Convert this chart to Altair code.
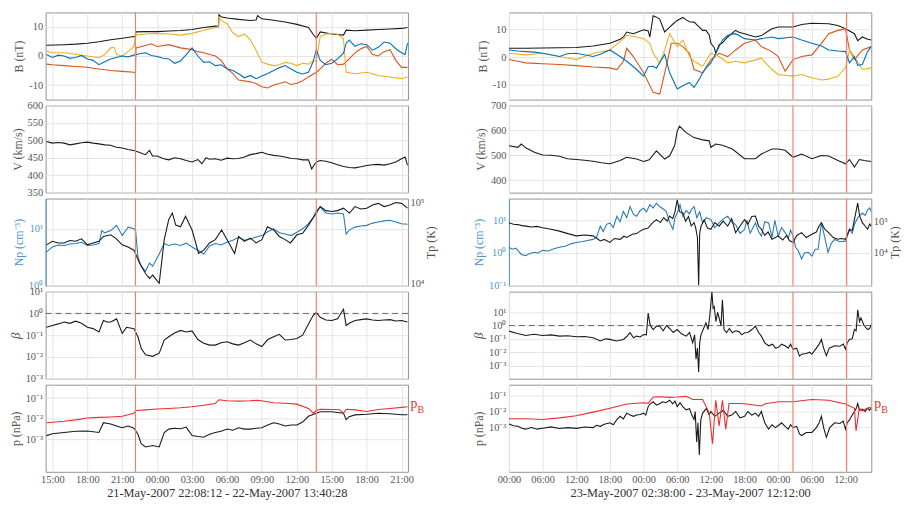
import altair as alt
import pandas as pd

FONT = "Liberation Serif"
LAB = "#555555"
GRID = "#e4e4e4"
FRAME = "#929292"
C_BX, C_BY, C_BZ, C_K = "#0072BD", "#D95319", "#EDB120", "#1a1a1a"
C_NP = "#2a7ab8"
C_NPAX = "#4f94cd"
C_PB = "#f22a2a"
C_SHOCK = "#f4806c"
W, H = 366, 88

# ---------------- time ranges (hours after 21-May-2007 00:00) ----------------
L_DOM = [14.42, 45.55]
R_DOM = [0.0, 64.6]
L_TICKS = [15, 18, 21, 24, 27, 30, 33, 36, 39, 42, 45]
R_TICKS = [0, 6, 12, 18, 24, 30, 36, 42, 48, 54, 60]
L_SHOCKS = [22.137, 37.674]
R_SHOCKS = [50.633, 60.2]
L_TITLE = "21-May-2007 22:08:12 - 22-May-2007 13:40:28"
R_TITLE = "23-May-2007 02:38:00 - 23-May-2007 12:12:00"

# ---------------- LEFT EVENT ----------------
LBM_T = [14.49, 16.01, 17.0, 18.01, 19.0, 20.01, 21.0, 22.01, 22.14, 22.16, 23.0, 24.01, 25.0, 26.01, 27.0, 28.01, 29.0, 29.28, 29.31, 29.54, 30.01, 31.0, 32.01, 32.5, 32.63, 33.0, 34.01, 35.0, 36.01, 37.0, 37.4, 37.68, 38.01, 39.0, 40.01, 40.24, 41.0, 42.01, 43.0, 44.01, 45.0, 45.51]
LBM = [3.7, 3.9, 4.1, 4.4, 4.9, 5.6, 6.1, 6.7, 6.6, 8.3, 8.4, 8.4, 8.6, 8.8, 9.1, 9.8, 10.3, 10.4, 14.2, 13.4, 13.1, 12.6, 12.2, 12.4, 13.9, 12.8, 12.3, 11.7, 10.9, 9.8, 7.5, 6.1, 8.3, 7.6, 7.2, 8.9, 8.7, 8.9, 9.1, 9.3, 9.5, 9.8]

LBX_T = [14.49, 15.0, 15.5, 16.01, 16.5, 17.0, 17.5, 18.01, 18.5, 19.0, 19.5, 20.01, 20.5, 21.0, 21.5, 22.01, 22.5, 23.0, 23.5, 24.01, 24.5, 25.0, 25.5, 26.01, 26.5, 27.0, 27.5, 28.01, 28.5, 29.0, 29.5, 30.01, 30.5, 31.0, 31.5, 32.01, 32.5, 33.0, 33.5, 34.01, 34.5, 35.0, 35.5, 36.01, 36.5, 37.0, 37.4, 37.68, 38.01, 38.5, 39.0, 39.5, 40.01, 40.24, 40.5, 41.0, 41.5, 42.01, 42.5, 43.0, 43.5, 44.01, 44.5, 45.0, 45.3, 45.51]
LBX = [0.5, -0.5, 0.3, 0.0, -0.8, -0.5, 0.2, -1.0, -1.5, -3.0, -2.0, -1.0, -0.5, 0.0, -0.3, 0.3, 0.8, 1.1, 0.2, -0.2, -0.8, -1.0, -2.5, -1.7, 0.5, 2.8, 0.0, -2.2, -2.0, -3.3, -3.0, -4.4, -5.0, -6.1, -7.5, -6.7, -7.8, -6.9, -6.0, -5.0, -4.0, -3.3, -4.5, -5.6, -6.2, -5.6, -2.0, 2.2, -1.5, -3.0, -2.5, -1.0, 1.0, 4.4, 5.5, 3.3, 4.2, 3.9, 2.0, 3.0, 4.8, 4.4, 2.5, 1.1, 0.5, 4.4]

LBY_T = [14.49, 15.0, 16.01, 17.0, 18.01, 19.0, 20.01, 21.0, 22.01, 22.14, 22.18, 23.0, 23.5, 24.01, 25.0, 26.01, 27.0, 27.5, 28.01, 28.5, 29.0, 29.5, 30.01, 30.5, 31.0, 32.01, 32.5, 33.0, 33.5, 34.01, 34.5, 35.0, 35.5, 36.01, 36.5, 37.0, 37.68, 38.01, 38.5, 39.0, 39.5, 40.01, 40.5, 41.0, 41.5, 42.01, 42.5, 43.0, 43.5, 44.01, 44.5, 45.0, 45.51]
LBY = [-2.8, -3.0, -3.3, -3.6, -3.9, -4.5, -5.0, -5.3, -5.6, -5.8, 2.8, 3.6, 4.2, 3.3, 3.9, 2.8, 2.2, 1.5, 1.1, 0.5, 0.0, -1.5, -4.4, -6.0, -8.3, -8.9, -9.5, -10.6, -11.0, -10.0, -9.5, -8.9, -9.8, -9.4, -8.5, -7.2, -5.6, -4.4, -2.5, -1.1, -3.0, -2.8, -1.0, 1.1, 2.5, 3.3, 0.5, 0.0, 1.5, 2.2, -1.5, -3.9, -3.9]

LBZ_T = [14.49, 15.0, 16.01, 17.0, 18.01, 19.0, 19.5, 20.01, 20.3, 20.52, 21.0, 21.5, 22.01, 22.16, 23.0, 24.01, 25.0, 26.01, 27.0, 28.01, 29.0, 29.28, 29.31, 29.6, 30.01, 30.5, 31.0, 31.5, 32.01, 32.5, 33.0, 33.5, 34.01, 34.5, 35.0, 35.5, 36.01, 36.5, 37.0, 37.4, 37.68, 38.01, 38.5, 39.0, 39.5, 40.01, 40.24, 41.0, 42.01, 43.0, 44.01, 45.0, 45.51]
LBZ = [1.7, 1.1, 1.1, 0.6, 0.0, -0.6, 0.5, 2.8, 3.0, 0.5, 0.0, 1.5, 3.3, 7.2, 7.6, 7.8, 7.6, 7.2, 7.8, 8.9, 9.8, 9.8, 13.3, 12.0, 11.1, 8.0, 6.7, 7.5, 5.6, 2.0, -2.2, -2.8, -3.3, -3.0, -2.2, -2.5, -3.3, -2.5, -2.8, -1.7, -1.7, 6.7, 7.5, 7.8, 7.5, 6.0, -5.6, -6.1, -5.6, -6.7, -7.2, -7.8, -7.2]

LV_T = [14.49, 15.0, 15.5, 16.01, 16.5, 17.0, 17.5, 18.01, 18.5, 19.0, 19.5, 20.01, 20.5, 21.0, 21.5, 22.01, 22.5, 23.0, 23.34, 23.6, 24.01, 24.5, 25.0, 25.5, 26.01, 26.5, 27.0, 27.5, 27.85, 28.2, 28.5, 29.0, 29.5, 30.01, 30.5, 31.0, 31.5, 32.01, 32.5, 33.0, 33.5, 34.01, 34.5, 35.0, 35.5, 36.01, 36.5, 37.0, 37.28, 37.5, 37.68, 38.01, 38.5, 39.0, 39.5, 40.01, 40.5, 41.0, 41.5, 42.01, 42.5, 43.0, 43.5, 44.01, 44.5, 45.0, 45.31, 45.51]
LV = [497, 492, 494, 492, 487, 490, 493, 495, 492, 490, 487, 486, 480, 478, 474, 471, 465, 459, 471, 455, 455, 448, 444, 450, 447, 442, 438, 445, 433, 450, 446, 447, 443, 449, 447, 448, 452, 459, 462, 466, 460, 457, 455, 452, 448, 447, 444, 444, 418, 430, 438, 442, 440, 436, 430, 425, 422, 421, 424, 428, 430, 431, 429, 433, 438, 447, 452, 428]

LNP_T = [14.49, 15.0, 15.5, 16.01, 16.5, 17.0, 17.5, 18.01, 18.5, 19.0, 19.25, 19.5, 20.01, 20.52, 21.0, 21.51, 22.01, 22.15, 22.35, 22.63, 23.0, 23.34, 23.62, 24.18, 24.61, 25.0, 25.5, 26.01, 26.5, 27.0, 27.5, 28.01, 28.5, 29.0, 29.5, 30.01, 30.5, 31.0, 31.5, 32.01, 32.5, 33.0, 33.5, 34.01, 34.5, 35.0, 35.5, 36.01, 36.5, 37.0, 37.4, 37.68, 38.01, 38.5, 39.0, 39.5, 40.01, 40.24, 40.5, 41.0, 41.5, 42.01, 42.5, 43.0, 43.5, 44.01, 44.5, 45.0, 45.51]
LNP = [3.9, 4.8, 5.2, 5.1, 5.4, 5.5, 5.8, 5.1, 5.2, 5.5, 9.3, 8.5, 9.3, 11.5, 7.6, 10.7, 10.0, 9.3, 3.2, 2.2, 1.8, 2.5, 2.2, 3.6, 5.5, 5.1, 5.4, 5.1, 5.6, 4.8, 4.2, 3.6, 5.0, 5.5, 5.2, 5.8, 6.3, 7.1, 6.3, 6.6, 7.2, 7.6, 8.9, 10.0, 8.5, 8.1, 7.6, 8.7, 10.0, 12.3, 15.8, 20.9, 24.0, 19.0, 18.2, 19.0, 18.2, 8.1, 9.5, 10.7, 11.2, 11.5, 12.6, 13.2, 13.8, 14.1, 13.2, 12.3, 12.0]

LTP_T = [14.49, 15.0, 15.5, 16.01, 16.5, 17.0, 17.5, 18.01, 18.5, 19.0, 19.39, 20.01, 20.5, 21.0, 21.5, 22.01, 22.49, 23.0, 23.34, 23.62, 24.01, 24.18, 24.61, 25.0, 25.31, 25.6, 26.01, 26.44, 27.0, 27.56, 28.01, 28.5, 29.0, 29.54, 30.01, 30.66, 31.0, 31.5, 32.01, 32.5, 33.0, 33.48, 34.01, 34.5, 35.0, 35.45, 36.01, 36.5, 37.0, 37.68, 38.01, 38.5, 39.0, 39.5, 40.01, 40.52, 41.0, 41.5, 42.01, 42.5, 43.0, 43.5, 44.01, 44.5, 45.0, 45.51]
LTP = [29900, 33100, 31600, 31600, 33900, 33100, 35500, 29900, 31600, 33100, 38000, 39800, 35500, 29900, 28200, 25700, 17800, 13200, 11500, 12600, 10700, 10000, 34700, 61700, 74100, 52500, 50100, 67600, 45700, 23400, 25700, 31600, 34700, 45700, 34700, 23400, 38000, 33100, 36300, 31600, 34700, 50100, 45700, 38000, 34700, 31600, 39800, 41700, 52500, 74100, 89100, 79400, 77600, 79400, 85100, 74100, 89100, 83200, 85100, 93300, 97700, 89100, 93300, 100000, 97700, 85100]

LBETA_T = [14.49, 15.0, 15.5, 16.01, 16.5, 17.0, 17.5, 18.01, 18.5, 19.0, 19.39, 19.7, 20.01, 20.52, 21.0, 21.37, 22.01, 22.35, 22.63, 23.0, 23.62, 24.18, 24.61, 25.0, 25.5, 26.01, 26.5, 27.0, 27.5, 28.01, 28.5, 29.0, 29.5, 30.01, 30.5, 31.0, 31.5, 32.01, 32.5, 33.0, 33.5, 34.01, 34.5, 35.0, 35.5, 36.01, 36.5, 37.0, 37.4, 37.68, 38.01, 38.5, 39.0, 39.5, 40.01, 40.24, 40.5, 41.0, 41.5, 42.01, 42.5, 43.0, 43.5, 44.01, 44.5, 45.0, 45.51]
LBETA = [0.23, 0.28, 0.33, 0.40, 0.35, 0.44, 0.35, 0.23, 0.20, 0.14, 0.47, 0.40, 0.40, 0.56, 0.12, 0.23, 0.20, 0.085, 0.025, 0.0126, 0.0107, 0.015, 0.06, 0.085, 0.126, 0.166, 0.14, 0.158, 0.063, 0.043, 0.035, 0.035, 0.045, 0.05, 0.04, 0.035, 0.045, 0.06, 0.04, 0.030, 0.063, 0.085, 0.11, 0.06, 0.063, 0.07, 0.1, 0.33, 0.8, 1.1, 0.66, 0.5, 0.47, 0.56, 1.55, 0.28, 0.35, 0.47, 0.52, 0.56, 0.5, 0.47, 0.5, 0.52, 0.45, 0.47, 0.40]

LPB_T = [14.49, 16.01, 17.0, 18.01, 19.0, 20.01, 21.0, 22.01, 22.16, 23.0, 24.0, 25.0, 26.0, 27.0, 28.0, 29.0, 29.31, 30.0, 31.0, 32.0, 32.63, 33.5, 34.0, 35.0, 36.0, 37.0, 37.42, 37.68, 38.01, 39.0, 39.68, 40.01, 40.24, 41.0, 42.0, 43.0, 44.0, 45.0, 45.51]
LPB = [0.0065, 0.0076, 0.0089, 0.011, 0.0117, 0.0123, 0.0132, 0.0186, 0.025, 0.027, 0.0295, 0.0316, 0.034, 0.038, 0.0447, 0.055, 0.083, 0.074, 0.071, 0.074, 0.078, 0.066, 0.059, 0.056, 0.051, 0.0316, 0.0186, 0.025, 0.029, 0.028, 0.0275, 0.0186, 0.029, 0.027, 0.0224, 0.028, 0.0316, 0.0355, 0.038]

LP_T = [14.49, 15.0, 16.01, 17.0, 18.01, 19.0, 19.39, 20.01, 20.52, 21.0, 21.5, 22.01, 22.35, 22.63, 23.0, 23.62, 24.18, 24.61, 25.0, 25.5, 26.01, 26.5, 27.0, 27.5, 28.01, 28.5, 29.0, 29.5, 30.01, 30.5, 31.0, 31.5, 32.01, 32.5, 33.0, 33.5, 34.01, 34.5, 35.0, 35.5, 36.01, 36.5, 37.0, 37.68, 38.01, 39.0, 40.01, 40.24, 40.5, 41.0, 42.01, 43.0, 44.01, 45.0, 45.51]
LP = [0.00155, 0.0019, 0.0022, 0.0025, 0.0026, 0.0022, 0.0065, 0.0056, 0.0045, 0.0037, 0.0045, 0.0035, 0.0018, 0.00063, 0.00044, 0.00052, 0.00044, 0.0022, 0.0032, 0.0035, 0.0033, 0.004, 0.00155, 0.0014, 0.0013, 0.0018, 0.0022, 0.0025, 0.0032, 0.0028, 0.0037, 0.0032, 0.0032, 0.0035, 0.0037, 0.005, 0.0065, 0.0056, 0.0045, 0.005, 0.005, 0.007, 0.0132, 0.0186, 0.022, 0.022, 0.0186, 0.0091, 0.0126, 0.0155, 0.0166, 0.0186, 0.0174, 0.0158, 0.0158]

# ---------------- RIGHT EVENT ----------------
RBM_T = [0, 3.0, 6.0, 9.0, 12.0, 15.0, 18.0, 19.82, 20.41, 21.0, 22.18, 24.0, 24.82, 25.12, 25.71, 26.29, 26.88, 27.76, 28.65, 29.24, 30.0, 31.0, 31.59, 32.18, 33.0, 33.94, 34.53, 35.12, 35.71, 36.0, 36.59, 36.88, 37.47, 38.06, 39.0, 40.41, 41.0, 42.0, 43.94, 45.0, 46.88, 48.0, 50.65, 52.18, 54.0, 57.0, 58.65, 60.0, 60.71, 61.59, 62.18, 63.0, 63.94, 64.59]
RBM = [3.2, 3.2, 3.3, 3.4, 3.5, 4.0, 5.0, 6.5, 7.3, 9.1, 8.5, 9.9, 9.5, 7.3, 15.0, 14.5, 13.8, 9.1, 10.9, 12.0, 13.3, 14.4, 13.5, 12.8, 12.7, 10.9, 9.7, 9.7, 8.0, 5.0, 3.5, 1.4, 4.5, 5.2, 7.3, 9.7, 9.0, 8.5, 7.3, 7.8, 10.3, 10.9, 10.9, 11.8, 12.3, 12.1, 11.5, 10.3, 9.5, 8.5, 6.0, 7.3, 6.5, 6.2]

RBX_T = [0, 1.59, 3.0, 4.53, 6.0, 9.0, 10.41, 12.0, 15.0, 16.29, 18.0, 19.82, 21.0, 22.76, 24.0, 24.82, 25.71, 26.29, 27.76, 28.65, 30.0, 31.0, 32.18, 33.0, 33.94, 34.53, 35.12, 36.0, 36.88, 38.06, 39.0, 40.41, 42.0, 43.94, 45.0, 46.88, 48.0, 50.65, 52.18, 54.0, 55.71, 57.0, 58.65, 60.0, 60.71, 61.59, 62.18, 63.0, 63.94, 64.59]
RBX = [2.6, 2.2, 2.0, 1.8, 1.4, 0.2, 1.2, 1.4, 0.2, 1.0, 2.6, 0.2, -1.5, -4.5, -6.9, -3.5, -3.3, -4.0, 1.0, -5.7, -11.6, -10.4, -9.2, -11.0, -8.0, -5.7, -4.0, -2.1, 1.4, 6.2, 7.9, 8.5, 6.7, 6.2, 6.7, 7.3, 6.7, 7.3, 6.2, 5.0, 4.0, 2.6, 2.2, 2.0, -2.1, 0.2, -3.0, -2.7, 2.0, 3.8]

RBY_T = [0, 1.59, 3.0, 6.0, 9.0, 12.0, 15.0, 18.0, 19.24, 20.41, 21.0, 22.18, 24.0, 25.71, 26.88, 28.06, 28.94, 30.0, 31.0, 32.18, 33.0, 34.53, 36.0, 37.47, 39.0, 40.41, 42.0, 43.94, 45.0, 46.88, 48.0, 49.24, 50.65, 52.18, 54.0, 55.71, 57.0, 58.65, 60.0, 60.71, 61.59, 63.0, 64.59]
RBY = [-0.9, -1.5, -2.1, -2.4, -2.7, -3.1, -3.6, -3.9, -4.5, -1.5, 3.2, 0.2, -5.7, -12.8, -13.4, -3.3, 5.0, 5.0, 3.8, 1.4, -4.5, -5.7, -0.9, 1.4, 0.2, 2.6, 5.0, 6.2, 3.8, 2.0, 0.2, -5.1, -0.9, 0.2, 0.8, 5.0, 8.5, 9.7, 10.3, 2.6, -0.9, 2.6, 3.8]

RBZ_T = [0, 3.0, 6.0, 9.0, 12.0, 15.0, 18.0, 20.41, 21.0, 22.76, 24.0, 25.12, 25.71, 26.88, 27.76, 28.65, 30.0, 31.0, 32.18, 33.0, 34.53, 36.0, 37.47, 39.0, 40.41, 42.0, 43.94, 45.0, 46.88, 48.0, 50.65, 52.18, 54.0, 55.71, 57.0, 58.65, 60.0, 60.71, 61.59, 63.0, 64.59]
RBZ = [1.4, 0.8, 1.4, 0.2, -0.9, 1.4, 2.6, 6.7, 7.9, 7.3, 6.7, 5.0, 1.4, -2.1, 2.6, 8.5, 3.8, 6.2, 0.2, -1.5, -3.3, 1.4, 0.2, -2.1, -1.5, -2.1, -1.0, -0.4, -4.5, -6.3, -6.9, -6.3, -7.5, -8.3, -8.0, -6.9, -3.9, 2.6, 0.2, -4.5, -3.9]

RV_T = [0, 1.59, 2.18, 3.0, 4.53, 6.0, 7.5, 9.0, 10.41, 12.0, 13.5, 15.0, 16.5, 18.0, 19.82, 21.0, 22.76, 24.0, 25.0, 26.29, 27.76, 28.65, 29.53, 30.0, 30.41, 31.59, 33.0, 34.53, 35.71, 36.0, 36.88, 38.06, 39.82, 42.0, 43.94, 45.0, 46.88, 48.0, 49.24, 50.65, 52.18, 54.0, 55.71, 57.0, 58.65, 60.0, 60.71, 61.59, 62.47, 63.35, 64.59]
RV = [538, 532, 545, 530, 512, 501, 500, 496, 486, 483, 480, 476, 470, 466, 479, 492, 485, 475, 482, 518, 485, 498, 538, 597, 617, 591, 571, 562, 558, 532, 545, 540, 525, 486, 486, 505, 525, 525, 520, 492, 505, 486, 499, 497, 479, 466, 483, 453, 483, 479, 475]

RNP_T = [0, 0.6, 1.2, 1.59, 2.2, 3.0, 3.6, 4.53, 5.2, 6.0, 7.0, 8.0, 9.0, 10.0, 11.0, 12.0, 13.0, 14.0, 15.0, 15.6, 16.29, 16.8, 17.4, 18.0, 18.6, 19.24, 19.8, 20.41, 21.0, 21.59, 22.2, 22.76, 23.4, 24.0, 24.5, 25.12, 25.7, 26.29, 26.88, 27.5, 28.06, 28.6, 29.24, 29.6, 30.0, 30.5, 31.0, 31.6, 32.18, 32.6, 33.0, 33.5, 34.0, 34.53, 35.2, 36.0, 36.7, 37.47, 38.2, 39.0, 39.7, 40.41, 41.2, 42.0, 42.4, 43.0, 43.94, 44.5, 45.0, 45.6, 46.29, 46.9, 47.4, 48.0, 48.6, 49.24, 49.8, 50.2, 50.65, 51.1, 51.59, 52.18, 52.7, 53.35, 54.0, 54.6, 55.12, 55.71, 56.3, 56.88, 57.5, 58.06, 59.0, 60.0, 60.4, 60.71, 61.2, 61.59, 62.2, 63.0, 63.5, 63.94, 64.3, 64.59]
RNP = [1.5, 1.3, 1.4, 1.2, 0.9, 0.83, 0.95, 1.05, 1.0, 1.2, 1.15, 1.35, 1.5, 1.6, 1.9, 2.1, 2.2, 2.4, 2.6, 3.0, 6.6, 4.5, 7.5, 8.3, 6.0, 13.2, 9.0, 18.6, 12.0, 26.3, 15.0, 13.2, 20.0, 23.4, 18.0, 30.0, 24.0, 33.1, 26.3, 22.0, 18.6, 9.0, 5.2, 12.0, 16.6, 30.0, 13.2, 20.0, 15.8, 22.0, 26.3, 12.0, 18.0, 8.3, 12.0, 10.5, 6.0, 8.3, 11.0, 13.2, 9.0, 7.4, 4.0, 5.2, 10.0, 4.0, 8.3, 4.5, 3.3, 9.0, 8.3, 3.0, 10.0, 3.3, 6.0, 4.2, 2.8, 5.0, 3.3, 1.5, 1.17, 0.66, 1.0, 1.05, 0.8, 1.3, 1.3, 8.3, 3.0, 1.05, 2.0, 2.6, 2.2, 2.3, 3.5, 5.2, 4.0, 7.4, 12.0, 16.6, 14.0, 20.9, 24.0, 18.6]

RTP_T = [0, 0.8, 1.59, 2.3, 3.0, 4.0, 5.0, 6.0, 7.5, 9.0, 10.5, 12.0, 13.5, 15.0, 15.7, 16.29, 17.0, 18.0, 18.8, 19.82, 20.5, 21.0, 22.0, 22.76, 23.4, 24.0, 24.8, 25.5, 26.29, 27.0, 27.6, 28.2, 28.65, 29.2, 29.6, 30.0, 30.4, 31.0, 31.5, 32.0, 32.5, 33.0, 33.3, 33.6, 33.82, 34.0, 34.24, 34.8, 35.4, 36.0, 36.7, 37.47, 38.2, 39.0, 39.7, 40.41, 41.2, 42.0, 42.6, 43.3, 43.94, 44.5, 45.0, 45.6, 46.2, 46.88, 47.5, 48.0, 48.8, 49.5, 50.0, 50.65, 51.3, 52.18, 53.0, 54.0, 54.8, 55.3, 55.71, 56.3, 57.0, 57.8, 58.65, 59.3, 60.0, 60.71, 61.2, 61.59, 62.18, 62.5, 63.0, 63.5, 63.94, 64.3, 64.59]
RTP = [89100, 80000, 77600, 72000, 69200, 65000, 68000, 61700, 55000, 47900, 40000, 33900, 36000, 33900, 28000, 23400, 26000, 20900, 28000, 26300, 33000, 30200, 38000, 40000, 48000, 55000, 60000, 85000, 112000, 90000, 130000, 100000, 145000, 120000, 200000, 480000, 200000, 182000, 100000, 140000, 70000, 89100, 60000, 30000, 900, 40000, 69200, 110000, 60000, 55000, 90000, 69200, 100000, 69200, 120000, 42700, 70000, 112000, 80000, 140000, 145000, 70000, 55000, 35000, 45000, 26300, 30000, 33900, 25000, 35000, 24000, 20900, 35000, 43000, 30000, 38000, 45000, 70000, 89100, 55000, 43000, 30000, 26300, 28000, 26300, 55000, 50000, 112000, 380000, 150000, 89100, 70000, 55000, 80000, 69200]

RBETA_T = [0, 1.5, 3.0, 4.5, 6.0, 7.5, 9.0, 10.5, 12.0, 13.5, 15.0, 16.29, 17.2, 18.0, 19.2, 20.41, 21.0, 21.59, 22.2, 22.76, 23.4, 24.0, 24.5, 24.82, 25.2, 25.71, 26.3, 26.88, 27.5, 28.1, 28.65, 29.3, 30.0, 30.7, 31.59, 32.2, 32.76, 33.1, 33.35, 33.6, 33.82, 34.0, 34.24, 34.7, 35.12, 35.5, 35.8, 36.18, 36.4, 36.59, 36.9, 37.2, 37.47, 37.8, 38.06, 38.35, 38.8, 39.3, 39.82, 40.4, 41.0, 41.5, 42.0, 42.6, 43.3, 43.94, 44.5, 45.0, 45.6, 46.29, 47.0, 47.5, 48.0, 48.6, 49.24, 49.8, 50.2, 50.65, 51.3, 51.8, 52.18, 53.0, 53.6, 54.0, 54.8, 55.3, 55.71, 56.1, 56.59, 57.1, 58.06, 59.0, 59.6, 60.0, 60.3, 60.71, 61.2, 61.59, 61.9, 62.18, 62.5, 62.76, 63.3, 63.94, 64.3, 64.59]
RBETA = [0.38, 0.25, 0.18, 0.22, 0.18, 0.2, 0.16, 0.17, 0.145, 0.15, 0.123, 0.069, 0.1, 0.091, 0.07, 0.09, 0.15, 0.29, 0.12, 0.16, 0.14, 0.21, 0.2, 8.7, 1.0, 0.5, 0.9, 0.89, 0.4, 1.0, 0.6, 0.3, 0.5, 0.25, 0.16, 0.3, 0.052, 0.2, 0.003, 0.02, 0.00032, 0.05, 0.2, 0.6, 1.6, 0.5, 5.0, 350, 20, 27, 2.0, 10, 3.7, 1.0, 85, 0.5, 0.3, 0.6, 0.29, 0.4, 0.35, 0.2, 0.29, 0.3, 0.5, 0.89, 0.3, 0.16, 0.05, 0.03, 0.04, 0.02, 0.022, 0.04, 0.03, 0.02, 0.04, 0.0166, 0.02, 0.005, 0.007, 0.008, 0.01, 0.007, 0.02, 0.04, 0.091, 0.02, 0.0054, 0.02, 0.03, 0.028, 0.04, 0.0166, 0.05, 0.09, 0.1, 0.5, 0.4, 15.5, 2.0, 3.7, 1.0, 0.5, 0.6, 1.17]

RPB_T = [0, 3.0, 6.0, 9.0, 12.0, 15.0, 18.0, 21.0, 24.0, 24.82, 25.71, 26.88, 28.65, 30.0, 31.59, 32.76, 34.53, 35.71, 36.29, 36.88, 37.47, 38.06, 38.65, 39.24, 41.0, 42.0, 45.0, 45.71, 48.0, 50.65, 54.0, 57.0, 60.0, 61.59, 61.88, 62.47, 63.0, 63.94, 64.59]
RPB = [0.0035, 0.0035, 0.0032, 0.004, 0.0055, 0.0091, 0.0158, 0.0288, 0.0347, 0.032, 0.079, 0.083, 0.075, 0.079, 0.087, 0.055, 0.055, 0.0079, 0.0001, 0.05, 0.00126, 0.05, 0.0008, 0.0316, 0.0316, 0.030, 0.022, 0.030, 0.04, 0.04, 0.055, 0.05, 0.0288, 0.0158, 0.00063, 0.0158, 0.011, 0.0166, 0.018]

RP_T = [0, 0.8, 1.59, 2.3, 3.0, 4.0, 5.0, 6.0, 7.5, 9.0, 10.5, 12.0, 13.5, 15.0, 15.6, 16.29, 17.0, 18.0, 18.6, 19.2, 19.82, 20.4, 21.0, 21.6, 22.2, 22.76, 23.4, 24.0, 24.4, 24.82, 25.2, 25.71, 26.3, 26.88, 27.4, 28.0, 28.65, 29.2, 29.6, 30.0, 30.5, 31.0, 31.59, 32.2, 32.6, 33.0, 33.2, 33.47, 33.7, 33.94, 34.2, 34.53, 35.2, 35.7, 36.0, 36.7, 37.47, 38.2, 39.0, 39.7, 40.41, 41.2, 42.0, 42.6, 43.3, 43.94, 44.5, 45.0, 45.6, 46.29, 46.9, 47.5, 48.0, 48.6, 49.24, 49.8, 50.2, 50.65, 51.3, 51.8, 52.18, 53.0, 54.0, 54.8, 55.3, 55.71, 56.1, 56.59, 57.2, 58.06, 59.0, 59.6, 60.0, 60.3, 60.71, 61.2, 61.59, 61.9, 62.18, 62.5, 63.0, 63.5, 63.94, 64.3, 64.59]
RP = [0.0017, 0.0013, 0.0012, 0.0009, 0.0008, 0.001, 0.0008, 0.0009, 0.0011, 0.00087, 0.001, 0.0009, 0.0011, 0.001, 0.0014, 0.0012, 0.0016, 0.002, 0.0015, 0.003, 0.005, 0.0035, 0.0079, 0.006, 0.005, 0.006, 0.0065, 0.0079, 0.006, 0.02, 0.03, 0.04, 0.025, 0.03, 0.04, 0.035, 0.05, 0.03, 0.045, 0.02, 0.035, 0.02, 0.0126, 0.015, 0.006, 0.0032, 0.01, 0.000126, 0.002, 0.00002, 0.003, 0.0079, 0.015, 0.006, 0.01, 0.005, 0.0079, 0.012, 0.005, 0.006, 0.01, 0.004, 0.005, 0.01, 0.006, 0.0079, 0.005, 0.01, 0.002, 0.0008, 0.0015, 0.001, 0.0013, 0.002, 0.0012, 0.0008, 0.0015, 0.001, 0.0012, 0.0004, 0.00032, 0.0005, 0.0005, 0.001, 0.002, 0.005, 0.001, 0.00025, 0.001, 0.002, 0.0018, 0.0025, 0.0008, 0.002, 0.003, 0.006, 0.01, 0.015, 0.0316, 0.012, 0.014, 0.01, 0.0158, 0.012, 0.0166]

# ---------------- helpers ----------------
SUPS = {-5: "⁻⁵", -4: "⁻⁴", -3: "⁻³", -2: "⁻²", -1: "⁻¹", 0: "⁰", 1: "¹", 2: "²", 3: "³", 4: "⁴", 5: "⁵"}
LOG_EXPR = "'10' + (" + "".join(
    f"round(log(datum.value)/LN10) == {k} ? '{v}' : " for k, v in SUPS.items()) + "'')"
HOUR_EXPR = "(datum.value % 24 < 10 ? '0' : '') + (datum.value % 24) + ':00'"
NUM_EXPR = "'' + datum.value"


def mk(t, v):
    return pd.DataFrame({"t": t, "v": v})


def xenc(dom, ticks, bottom, title):
    if bottom:
        ax = alt.Axis(values=ticks, labelExpr=HOUR_EXPR, title=title, grid=True,
                      labelFlush=False, labelOverlap=False, titleFontSize=12.5,
                      titleColor="#333333", labelPadding=3, titlePadding=1)
    else:
        ax = alt.Axis(values=ticks, labels=False, title=None, grid=True)
    return alt.X("t:Q", scale=alt.Scale(domain=dom, nice=False, zero=False), axis=ax)


def yenc(dom, ticks, title, log=False, orient="left", grid=True, color=None,
         domain=False, italic=False):
    sc = alt.Scale(domain=dom, type="log", nice=False) if log else \
        alt.Scale(domain=dom, nice=False, zero=False)
    kw = dict(values=ticks, title=title, orient=orient, grid=grid,
              labelExpr=LOG_EXPR if log else NUM_EXPR, domain=domain)
    if color:
        kw.update(labelColor=color, titleColor=color, domainColor=color)
    if italic:
        kw.update(titleFontStyle="italic", titleFontSize=13)
    if orient == "right":
        kw.update(labelPadding=2, titlePadding=2, titleAngle=270, titleBaseline="top")
    return alt.Y("v:Q", scale=sc, axis=alt.Axis(**kw))


def lines(series, xe, ye):
    return [alt.Chart(mk(t, v)).mark_line(color=c, strokeWidth=sw, clip=True)
            .encode(x=xe, y=ye) for (t, v, c, sw) in series]


def shocks(times, xe):
    return alt.Chart(pd.DataFrame({"t": times})).mark_rule(
        color=C_SHOCK, strokeWidth=1.2).encode(x=xe)


def column(side):
    if side == "L":
        dom, ticks, sh, title = L_DOM, L_TICKS, L_SHOCKS, L_TITLE
        bx, by, bz, bm = (LBX_T, LBX), (LBY_T, LBY), (LBZ_T, LBZ), (LBM_T, LBM)
        v, npd, tpd, be, pb, pp = (LV_T, LV), (LNP_T, LNP), (LTP_T, LTP), \
            (LBETA_T, LBETA), (LPB_T, LPB), (LP_T, LP)
        bdom, vdom, vt = [-15, 15], [350, 600], [350, 400, 450, 500, 550, 600]
        npdom, npt, tpdom = [1, 34], [1, 10], [9330, 112000]
        bedom, pdom = [1e-3, 10], [2.8e-5, 0.44]
    else:
        dom, ticks, sh, title = R_DOM, R_TICKS, R_SHOCKS, R_TITLE
        bx, by, bz, bm = (RBX_T, RBX), (RBY_T, RBY), (RBZ_T, RBZ), (RBM_T, RBM)
        v, npd, tpd, be, pb, pp = (RV_T, RV), (RNP_T, RNP), (RTP_T, RTP), \
            (RBETA_T, RBETA), (RPB_T, RPB), (RP_T, RP)
        bdom, vdom, vt = [-15.4, 16.2], [350, 700], [400, 500, 600, 700]
        npdom, npt, tpdom = [0.1, 46], [0.1, 1, 10], [870, 525000]
        bedom, pdom = [1e-4, 355], [1.8e-6, 0.46]

    xe = xenc(dom, ticks, False, None)
    xb = xenc(dom, ticks, True, title)

    # B panel
    yb = yenc(bdom, [-10, 0, 10], "B (nT)")
    p1 = alt.layer(*lines([(bm[0], bm[1], C_K, 1.1), (by[0], by[1], C_BY, 1.1),
                           (bz[0], bz[1], C_BZ, 1.1), (bx[0], bx[1], C_BX, 1.1)], xe, yb),
                   shocks(sh, xe)).properties(width=W, height=H)

    # V panel
    yv = yenc(vdom, vt, "V (km/s)")
    p2 = alt.layer(*lines([(v[0], v[1], C_K, 1.1)], xe, yv),
                   shocks(sh, xe)).properties(width=W, height=H)

    # Np / Tp panel
    ynp = yenc(npdom, npt, "Np (cm⁻³)", log=True, color=C_NPAX, domain=True)
    ytp = yenc(tpdom, [1e4, 1e5], "Tp (K)", log=True, orient="right", grid=False)
    np_l = alt.layer(*lines([(npd[0], npd[1], C_NP, 1.1)], xe, ynp))
    tp_l = alt.layer(*lines([(tpd[0], tpd[1], C_K, 1.1)], xe, ytp))
    p3 = alt.layer(np_l, tp_l, shocks(sh, xe)).resolve_scale(y="independent") \
        .properties(width=W, height=H)

    # beta panel
    ybe = yenc(bedom, [1e-3, 1e-2, 1e-1, 1, 10], "β", log=True, italic=True)
    one = alt.Chart(pd.DataFrame({"v": [1.0]})).mark_rule(
        color="#666666", strokeDash=[6, 4], strokeWidth=1).encode(y=ybe)
    p4 = alt.layer(one, *lines([(be[0], be[1], C_K, 1.1)], xe, ybe),
                   shocks(sh, xe)).properties(width=W, height=H)

    # pressure panel
    yp = yenc(pdom, [1e-3, 1e-2, 1e-1], "p (nPa)", log=True)
    lab = pd.DataFrame({"t": [pb[0][-1]], "v": [pb[1][-1]]})
    t1 = alt.Chart(lab).mark_text(text="p", color=C_PB, fontSize=14, font=FONT,
                                  align="left", baseline="middle", dx=3, dy=-3).encode(x=xb, y=yp)
    t2 = alt.Chart(lab).mark_text(text="B", color=C_PB, fontSize=10, font=FONT,
                                  align="left", baseline="middle", dx=10, dy=3).encode(x=xb, y=yp)
    p5 = alt.layer(*lines([(pp[0], pp[1], C_K, 1.1), (pb[0], pb[1], C_PB, 1.1)], xb, yp),
                   shocks(sh, xb), t1, t2).properties(width=W, height=H)

    return alt.vconcat(p1, p2, p3, p4, p5, spacing=6, bounds="flush")


chart = alt.hconcat(column("L"), column("R"), spacing=34).properties(
    padding={"left": 0, "top": 0, "right": 0, "bottom": 0}
).configure_view(stroke=FRAME, strokeWidth=1).configure_axis(
    labelFont=FONT, titleFont=FONT, labelColor=LAB, titleColor=LAB,
    labelFontSize=10.5, titleFontSize=12, titleFontWeight="normal",
    gridColor=GRID, gridWidth=1, domain=False, ticks=False,
    labelPadding=3, titlePadding=3
)

chart.save("out.html", embed_options={"renderer": "svg", "actions": False})
